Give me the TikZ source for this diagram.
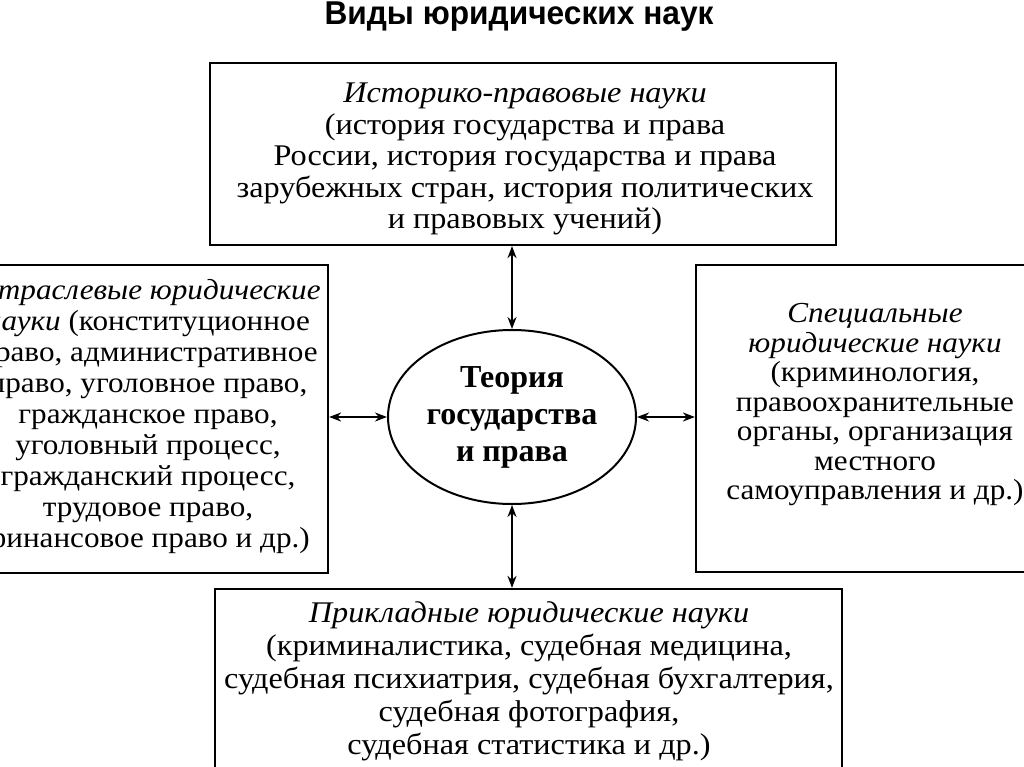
\documentclass[tikz,border=0pt]{standalone}
\usepackage{fontspec}
\setmainfont{Liberation Serif}
\newfontfamily\titlefont{Liberation Sans}
\newfontfamily\wideserif{Liberation Serif}[FakeStretch=1.075]
\usetikzlibrary{arrows.meta,shapes.geometric}
\begin{document}
\begin{tikzpicture}[x=1pt,y=-1pt,
  box/.style={draw, line width=2.2pt, rectangle, inner sep=0pt},
  txt/.style={align=center, inner sep=0pt},
  link/.style={line width=2pt, {Stealth[length=12pt,width=9pt]}-{Stealth[length=12pt,width=9pt]}}
]
\useasboundingbox (0,0) rectangle (1024,767);
\clip (0,0) rectangle (1024,767);

\node[anchor=base, inner sep=0pt, font=\titlefont\bfseries\fontsize{33}{38}\selectfont] (title) at (519,25) {\scalebox{0.96}[1]{Виды юридических наук}};

\node[box, minimum width=626pt, minimum height=182pt] (top) at (523,154) {};
\node[txt, font=\wideserif\fontsize{30}{31.5}\selectfont] (toptext) at (525,159) {\textit{Историко-правовые науки}\\(история государства и права\\России, история государства и права\\зарубежных стран, история политических\\и правовых учений)};

\node[box, minimum width=336pt, minimum height=308pt] (left) at (160,419) {};
\node[txt, font=\wideserif\fontsize{29}{31}\selectfont] (lefttext) at (148,417) {\textit{Отраслевые юридические}\\\textit{науки} (конституционное\\право, административное\\право, уголовное право,\\гражданское право,\\уголовный процесс,\\гражданский процесс,\\трудовое право,\\финансовое право и др.)};

\node[box, minimum width=348pt, minimum height=307pt] (right) at (870,418.5) {};
\node[txt, font=\wideserif\fontsize{29}{29.5}\selectfont] (righttext) at (875,405) {\textit{Специальные}\\\textit{юридические науки}\\(криминология,\\правоохранительные\\органы, организация\\местного\\самоуправления и др.)};

\node[box, minimum width=627pt, minimum height=211pt] (bottom) at (528.5,694.5) {};
\node[txt, font=\wideserif\fontsize{30}{33}\selectfont] (bottomtext) at (529,681) {\textit{Прикладные юридические науки}\\(криминалистика, судебная медицина,\\судебная психиатрия, судебная бухгалтерия,\\судебная фотография,\\судебная статистика и др.)};

\node[draw, ellipse, line width=2pt, minimum width=248pt, minimum height=174pt, inner sep=0pt, align=center, font=\bfseries\fontsize{32}{37}\selectfont] (center) at (512,417) {Теория\\государства\\и права};

\draw[link] (center.north) -- (center.north |- top.south);
\draw[link] (center.south) -- (center.south |- bottom.north);
\draw[link] (center.west) -- (center.west -| left.east);
\draw[link] (center.east) -- (center.east -| right.west);
\end{tikzpicture}
\end{document}
